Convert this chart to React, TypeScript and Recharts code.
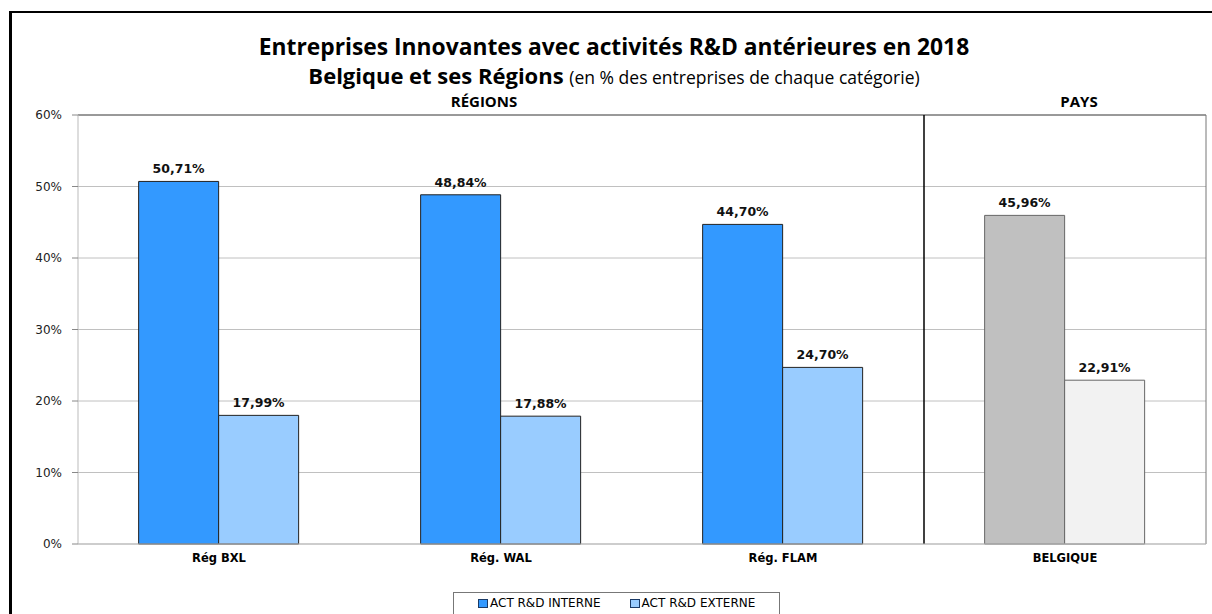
import {
  BarChart,
  Bar,
  XAxis,
  YAxis,
  CartesianGrid,
  Legend,
  LabelList,
  ReferenceLine,
  Cell,
} from "recharts";

const categories = ["Rég BXL", "Rég. WAL", "Rég. FLAM", "BELGIQUE"];
const interne = [50.71, 48.84, 44.7, 45.96];
const externe = [17.99, 17.88, 24.7, 22.91];
const yTicks = [0, 10, 20, 30, 40, 50, 60];
const seriesNames = ["ACT R&D INTERNE", "ACT R&D EXTERNE"];

const data = categories.map((name, i) => ({
  name,
  interne: interne[i],
  externe: externe[i],
}));

const titleFont = '"Open Sans", "Liberation Sans", sans-serif';
const bodyFont = '"DejaVu Sans", Verdana, sans-serif';

const fmt = (v: any) => Number(v).toFixed(2).replace(".", ",") + "%";

function LegendBox() {
  return (
    <div
      style={{
        position: "absolute",
        left: 453,
        top: 18,
        width: 327,
        height: 30,
        border: "1px solid #777",
        boxSizing: "border-box",
        fontFamily: bodyFont,
        fontSize: 12,
        color: "#000",
        display: "flex",
        alignItems: "flex-start",
        paddingTop: 3,
        paddingLeft: 24,
        gap: 29,
      }}
    >
      {seriesNames.map((s, i) => (
        <span key={s} style={{ display: "flex", alignItems: "center" }}>
          <span
            style={{
              display: "inline-block",
              width: 8,
              height: 7,
              background: i === 0 ? "#3399FF" : "#99CCFF",
              border: "1px solid #1a3a66",
              marginRight: 2,
            }}
          />
          {s}
        </span>
      ))}
    </div>
  );
}

const header = (left: number, top: number, size: number): React.CSSProperties => ({
  position: "absolute",
  left,
  width: 400,
  top,
  textAlign: "center",
  fontFamily: titleFont,
  fontWeight: "bold",
  fontSize: size,
  whiteSpace: "nowrap",
});

export default function App() {
  return (
    <div
      style={{
        position: "absolute",
        left: 0,
        top: 0,
        width: 1212,
        height: 614,
        background: "#fff",
        overflow: "hidden",
      }}
    >
      <div
        style={{
          position: "absolute",
          left: 9,
          top: 11,
          width: 1212,
          height: 620,
          borderTop: "2px solid #000",
          borderLeft: "3px solid #000",
        }}
      />
      <div
        style={{
          position: "absolute",
          left: 0,
          width: 1228,
          top: 32,
          textAlign: "center",
          fontFamily: titleFont,
          fontWeight: "bold",
          fontSize: 22.8,
          lineHeight: "30px",
          whiteSpace: "nowrap",
        }}
      >
        Entreprises Innovantes avec activités R&amp;D antérieures en 2018
      </div>
      <div
        style={{
          position: "absolute",
          left: 0,
          width: 1228,
          top: 61,
          textAlign: "center",
          fontFamily: titleFont,
          fontSize: 22,
          lineHeight: "28px",
          whiteSpace: "nowrap",
        }}
      >
        <b>Belgique et ses Régions</b>{" "}
        <span style={{ fontSize: 17.5 }}>(en % des entreprises de chaque catégorie)</span>
      </div>
      <div style={header(284, 91, 15)}>RÉGIONS</div>
      <div style={header(879, 91, 15)}>PAYS</div>
      <BarChart
        width={1212}
        height={614}
        data={data}
        margin={{ top: 115, right: 6, left: 0, bottom: 0 }}
        barCategoryGap="21.5%"
        barGap={0}
      >
        <CartesianGrid stroke="#C0C0C0" vertical={false} />
        <XAxis
          dataKey="name"
          height={30}
          axisLine={{ stroke: "#BBBBBB" }}
          tickLine={false}
          tickSize={8}
          tick={{ fontFamily: bodyFont, fontSize: 11.5, fontWeight: "bold", fill: "#000" }}
        />
        <YAxis
          width={78}
          domain={[0, 60]}
          ticks={yTicks}
          tickFormatter={(v: number) => `${v}%`}
          axisLine={{ stroke: "#BBBBBB" }}
          tickLine={{ stroke: "#888" }}
          tickSize={6}
          tickMargin={10}
          tick={{ fontFamily: bodyFont, fontSize: 12, fill: "#222" }}
        />
        <ReferenceLine y={60} stroke="#555" />
        <ReferenceLine x="BELGIQUE" position="end" stroke="#777" />
        <ReferenceLine x="BELGIQUE" position="start" stroke="#000" strokeWidth={1.5} />
        <Bar
          dataKey="interne"
          name={seriesNames[0]}
          fill="#3399FF"
          stroke="#222"
          strokeWidth={1}
          isAnimationActive={false}
        >
          {data.map((d, i) => (
            <Cell
              key={`i-${i}`}
              fill={d.name === "BELGIQUE" ? "#C0C0C0" : "#3399FF"}
              stroke={d.name === "BELGIQUE" ? "#666" : "#222"}
            />
          ))}
          <LabelList
            dataKey="interne"
            position="top"
            offset={8}
            formatter={fmt}
            style={{ fontFamily: bodyFont, fontSize: 12.5, fontWeight: "bold", fill: "#111" }}
          />
        </Bar>
        <Bar
          dataKey="externe"
          name={seriesNames[1]}
          fill="#99CCFF"
          stroke="#222"
          strokeWidth={1}
          isAnimationActive={false}
        >
          {data.map((d, i) => (
            <Cell
              key={`e-${i}`}
              fill={d.name === "BELGIQUE" ? "#F2F2F2" : "#99CCFF"}
              stroke={d.name === "BELGIQUE" ? "#666" : "#222"}
            />
          ))}
          <LabelList
            dataKey="externe"
            position="top"
            offset={8}
            formatter={fmt}
            style={{ fontFamily: bodyFont, fontSize: 12.5, fontWeight: "bold", fill: "#111" }}
          />
        </Bar>
        <Legend
          verticalAlign="bottom"
          height={40}
          wrapperStyle={{ left: 0, width: 1212, bottom: 0 }}
          content={() => <LegendBox />}
        />
      </BarChart>
    </div>
  );
}
